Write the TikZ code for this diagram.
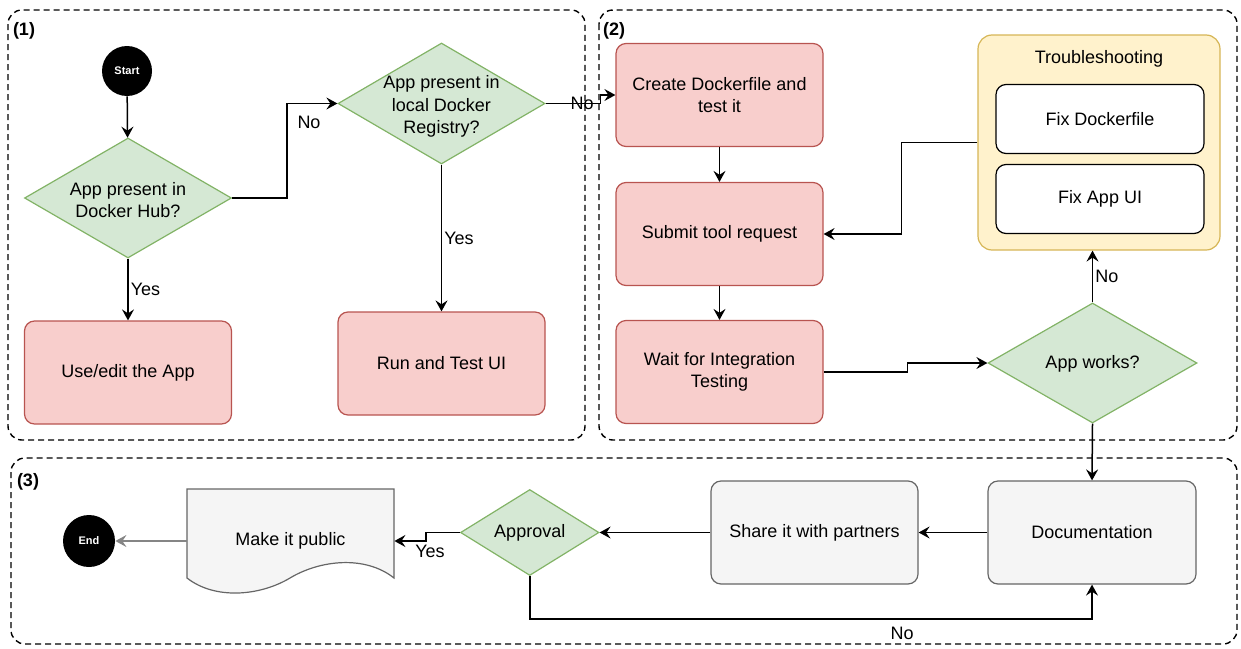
\documentclass[tikz,border=0pt]{standalone}
\usepackage{fontspec}
\setmainfont{Liberation Sans}
\usetikzlibrary{shapes.geometric,arrows.meta,positioning}

\definecolor{redfill}{HTML}{F8CECC}
\definecolor{redline}{HTML}{B85450}
\definecolor{greenfill}{HTML}{D5E8D4}
\definecolor{greenline}{HTML}{82B366}
\definecolor{grayfill}{HTML}{F5F5F5}
\definecolor{grayline}{HTML}{666666}
\definecolor{yellowfill}{HTML}{FFF2CC}
\definecolor{yellowline}{HTML}{D6B656}

\tikzset{
  proc/.style={draw=redline, fill=redfill, rounded corners=5pt, line width=0.6pt,
    minimum width=103.5pt, minimum height=51.5pt, align=center},
  grayproc/.style={proc, draw=grayline, fill=grayfill},
  fixbox/.style={draw=black, fill=white, rounded corners=5pt, line width=0.6pt,
    minimum width=104pt, minimum height=34.5pt},
  decision/.style={diamond, draw=greenline, fill=greenfill, line width=0.6pt, inner sep=0pt},
  term/.style={circle, fill=black, text=white, inner sep=0pt,
    font=\bfseries\fontsize{5.5}{6}\selectfont},
  arr/.style={-{Stealth[length=5.5pt,width=6pt,inset=2pt]}, line width=0.75pt},
  group/.style={draw, dash pattern=on 3pt off 2pt, rounded corners=7pt, line width=0.7pt},
  lbl/.style={inner sep=1pt},
  grouplbl/.style={font=\bfseries\fontsize{9}{11}\selectfont}
}

\begin{document}
\begin{tikzpicture}[x=0.5pt, y=-0.5pt, font=\fontsize{9}{11.2}\selectfont]
  \useasboundingbox (0,0) rectangle (1241,648);

  % the three dashed groups
  \draw[group] (8,10) rectangle (585,440);
  \draw[group] (599,10) rectangle (1237,440);
  \draw[group] (11,458) rectangle (1237,644);
  \node[grouplbl] (g1) at (24,31) {(1)};
  \node[grouplbl] (g2) at (614,31) {(2)};
  \node[grouplbl] (g3) at (28,482) {(3)};

  % group (1)
  \node[term, minimum size=25pt] (start) at (127,71) {Start};
  \node[decision, minimum width=103.5pt, minimum height=60pt,
    label={[align=center, yshift=-1pt]center:App present in\\Docker Hub?}] (hub) at (128,198) {};
  \node[decision, minimum width=103.5pt, minimum height=60.5pt,
    label={[align=center, yshift=-1.5pt]center:App present in\\local Docker\\Registry?}] (local) at (441.5,103.5) {};
  \node[proc] (use) at (128,372.5) {Use/edit the App};
  \node[proc] (run) at (441.5,363.5) {Run and Test UI};

  % group (2)
  \node[proc] (create) at (719.5,95) {Create Dockerfile and\\test it};
  \node[proc] (submit) at (719.5,234) {Submit tool request};
  \node[proc] (wait) at (719.5,372) {Wait for Integration\\Testing};
  \node[draw=yellowline, fill=yellowfill, rounded corners=7pt, line width=0.6pt,
    minimum width=121pt, minimum height=107.5pt] (trouble) at (1099,142.5) {};
  \node (ttitle) at (1099,58.5) {Troubleshooting};
  \node[fixbox] (fixdf) at (1100,119) {Fix Dockerfile};
  \node[fixbox] (fixui) at (1100,199) {Fix App UI};
  \node[decision, minimum width=104.5pt, minimum height=60pt,
    label={[yshift=-0.5pt]center:App works?}] (works) at (1092.5,363) {};

  % group (3)
  \node[grayproc, minimum width=104pt] (doc) at (1092,532.5) {Documentation};
  \node[grayproc] (share) at (814.5,532.5) {Share it with partners};
  \node[decision, minimum width=69.25pt, minimum height=43pt,
    label={center:Approval}] (appr) at (529.75,532.5) {};
  % document shape
  \draw[draw=grayline, fill=grayfill, line width=0.6pt]
    (187,489) -- (394,489) -- (394,578)
    .. controls (365,555) and (320,560) .. (290,578)
    .. controls (260,596) and (215,600) .. (187,578) -- cycle;
  \node[minimum width=103.5pt, inner sep=0pt] (public) at (290.5,541) {Make it public};
  \node[term, minimum size=26pt] (end) at (89,541) {End};

  % connectors
  \draw[arr] (start) -- (hub);
  \draw[arr] (hub.east) -- ++(55,0) |- (local.west);
  \node[lbl] (lno1) at (309,122) {No};
  \draw[arr] (hub.south) -- node[lbl, right] (lyes1) {Yes} (use.north);
  \draw[arr] (local.south) -- node[lbl, right] (lyes2) {Yes} (run.north);
  \draw[arr] (local.east) -- ++(55,0) |- (create.west);
  \node[lbl] (lno2) at (582,103) {No};
  \draw[arr] (create) -- (submit);
  \draw[arr] (submit) -- (wait);
  \draw[arr] (trouble.west) -- ++(-76,0) |- (submit.east);
  \draw[arr] (wait.east) -- ++(84,0) |- (works.west);
  \draw[arr] (works.north) -- node[lbl, right] (lno3) {No} (works.north |- trouble.south);
  \draw[arr] (works.south) -- (doc.north);
  \draw[arr] (doc.west) -- (share.east);
  \draw[arr] (share.west) -- (appr.east);
  \draw[arr] (appr.west) -- ++(-34,0) |- (public.east);
  \node[lbl] (lyes3) at (430,551) {Yes};
  \draw[arr, draw=grayline!80, line width=0.6pt] (public.west) -- (end.east);
  \draw[arr] (appr.south) -- ++(0,43) -| (doc.south);
  \node[lbl] (lno4) at (902,633) {No};
\end{tikzpicture}
\end{document}
